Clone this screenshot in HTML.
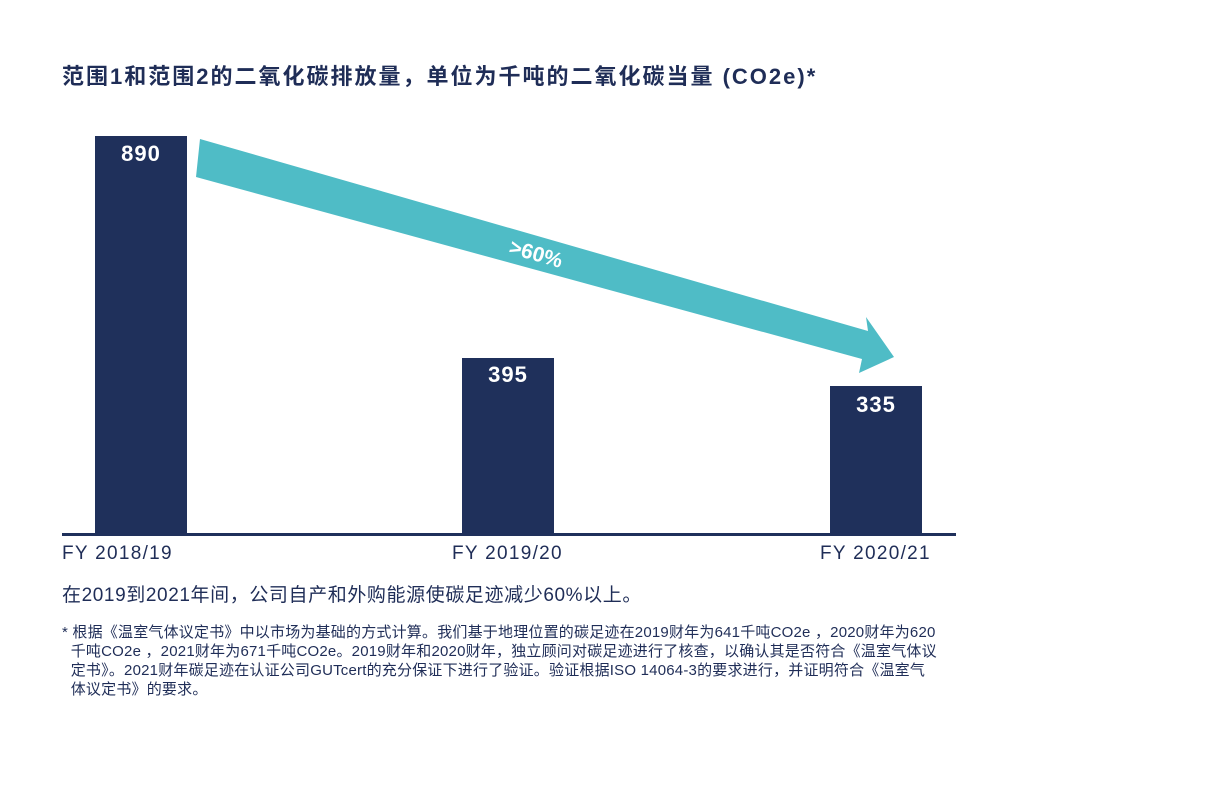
<!DOCTYPE html>
<html><head><meta charset="utf-8"><style>
body{margin:0;width:1232px;height:801px;background:#fff;position:relative;overflow:hidden;font-family:"Liberation Sans","Noto Sans CJK SC",sans-serif;color:#1f2d57}
.a{position:absolute}
.bar{position:absolute;background:#1f305b;width:92px;bottom:266px}
.v{position:absolute;color:#fff;font-weight:bold;font-size:22px;width:92px;text-align:center;letter-spacing:1px}
.x{position:absolute;font-size:19px;top:543px;color:#1f2d57;letter-spacing:1.3px}
</style></head><body>
<div class="a" style="left:62px;top:59px;font-size:22px;font-weight:bold;letter-spacing:2px;white-space:nowrap">范围1和范围2的二氧化碳排放量，单位为千吨的二氧化碳当量 (CO2e)*</div>
<div class="bar" style="left:95px;top:136px"></div>
<div class="bar" style="left:462px;top:358px"></div>
<div class="bar" style="left:830px;top:386px"></div>
<div class="v" style="left:95px;top:141px">890</div>
<div class="v" style="left:462px;top:362px">395</div>
<div class="v" style="left:830px;top:392px">335</div>
<div class="a" style="left:62px;top:533px;width:894px;height:3px;background:#1f305b"></div>
<svg class="a" style="left:0;top:0" width="1232" height="801">
<polygon points="200,139 868,331 866,317 894,357 859,373 862,359 196,177" fill="#4fbcc6"/>
<text x="0" y="0" transform="translate(508,253) rotate(16)" fill="#fff" font-size="21" font-weight="bold" font-family="Liberation Sans,sans-serif">&gt;60%</text>
</svg>
<div class="x" style="left:62px">FY 2018/19</div>
<div class="x" style="left:452px">FY 2019/20</div>
<div class="x" style="left:820px">FY 2020/21</div>
<div class="a" style="left:62px;top:580px;font-size:19px;letter-spacing:0.6px;white-space:nowrap">在2019到2021年间，公司自产和外购能源使碳足迹减少60%以上。</div>
<div class="a" style="left:62px;top:623px;font-size:15px;line-height:19px;width:900px;white-space:nowrap;letter-spacing:0.2px">* 根据《温室气体议定书》中以市场为基础的方式计算。我们基于地理位置的碳足迹在2019财年为641千吨CO2e ，2020财年为620<br>&nbsp;&nbsp;千吨CO2e ，2021财年为671千吨CO2e。2019财年和2020财年，独立顾问对碳足迹进行了核查，以确认其是否符合《温室气体议<br>&nbsp;&nbsp;定书》。2021财年碳足迹在认证公司GUTcert的充分保证下进行了验证。验证根据ISO 14064-3的要求进行，并证明符合《温室气<br>&nbsp;&nbsp;体议定书》的要求。</div>
</body></html>
